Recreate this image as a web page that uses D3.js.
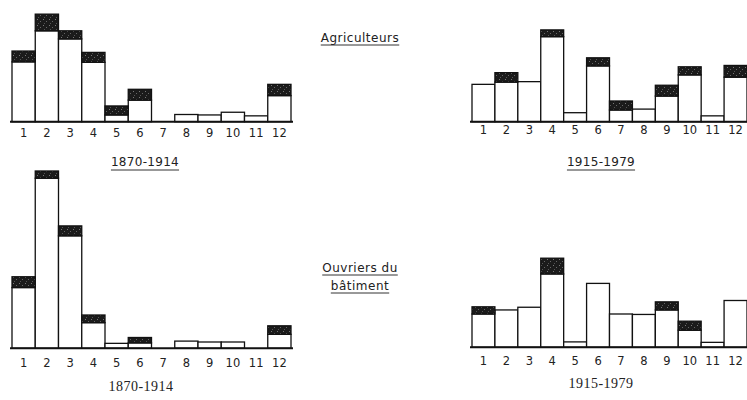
<!DOCTYPE html>
<html>
<head>
<meta charset="utf-8">
<script src="https://cdn.jsdelivr.net/npm/d3@7/dist/d3.min.js"></script>
<style>
  body { margin: 0; background: #fff; }
  #chart { width: 747px; height: 400px; display: block; }
  .axis .domain { stroke: #111; stroke-width: 2; }
  .axis .tick line { display: none; }
  .axis .tick text { font-family: "DejaVu Sans", sans-serif; font-size: 11.5px; fill: #222; }
</style>
</head>
<body>
<svg id="chart"></svg>
<script>
var months = ["1", "2", "3", "4", "5", "6", "7", "8", "9", "10", "11", "12"];

// lower (white) and upper (dark) part of each bar
var agriLow1870 = [13.3, 20.2, 18.4, 13.2, 1.5, 4.8, 0, 1.6, 1.5, 2.1, 1.3, 5.8];
var agriHigh1870 = [2.4, 3.7, 1.8, 2.2, 2.0, 2.4, 0, 0, 0, 0, 0, 2.5];
var agriLow1915 = [8.3, 8.8, 8.9, 18.9, 2.0, 12.4, 2.6, 2.8, 5.7, 10.4, 1.3, 9.9];
var agriHigh1915 = [0, 2.1, 0, 1.5, 0, 1.8, 2.0, 0, 2.4, 1.8, 0, 2.6];
var batiLow1870 = [13.5, 37.8, 25.0, 5.7, 1.1, 1.2, 0, 1.6, 1.4, 1.4, 0, 3.1];
var batiHigh1870 = [2.4, 1.6, 2.2, 1.7, 0, 1.2, 0, 0, 0, 0, 0, 1.9];
var batiLow1915 = [7.4, 8.3, 8.9, 16.3, 1.2, 14.2, 7.4, 7.3, 8.3, 3.8, 1.1, 10.4];
var batiHigh1915 = [1.6, 0, 0, 3.5, 0, 0, 0, 0, 1.8, 2.0, 0, 0];

var svg = d3.select("#chart");

// stippled dark fill like the printed original
var pat = svg.append("defs").append("pattern")
    .attr("id", "stipple")
    .attr("patternUnits", "userSpaceOnUse")
    .attr("width", 6).attr("height", 6);
pat.append("rect").attr("width", 6).attr("height", 6).attr("fill", "#1b1b1b");
pat.append("rect").attr("x", 1).attr("y", 1).attr("width", 1).attr("height", 1).attr("fill", "#777");
pat.append("rect").attr("x", 4).attr("y", 3).attr("width", 1).attr("height", 1).attr("fill", "#666");
pat.append("rect").attr("x", 2).attr("y", 5).attr("width", 1).attr("height", 1).attr("fill", "#555");

var panels = [
  {low: agriLow1870, high: agriHigh1870, x0: 12, x1: 291, base: 121.7, pad: 7, label: "1870-1914", lx: 145, ly: 166, underline: true, serif: false},
  {low: agriLow1915, high: agriHigh1915, x0: 472, x1: 747, base: 121.7, pad: 4, label: "1915-1979", lx: 601, ly: 166, underline: true, serif: false},
  {low: batiLow1870, high: batiHigh1870, x0: 12, x1: 291, base: 348.3, pad: 11, label: "1870-1914", lx: 141, ly: 391, underline: false, serif: true},
  {low: batiLow1915, high: batiHigh1915, x0: 472, x1: 747, base: 347.3, pad: 10, label: "1915-1979", lx: 601, ly: 388, underline: false, serif: true}
];

var pxPerUnit = 4.5;

panels.forEach(function(p) {
  var x = d3.scaleBand().domain(months).range([p.x0, p.x1]).padding(0);
  var y = d3.scaleLinear().domain([0, 40]).range([p.base, p.base - 40 * pxPerUnit]);

  var g = svg.append("g").attr("class", "panel");

  var rows = months.map(function(m, i) { return {m: m, low: p.low[i], high: p.high[i]}; });

  // white part
  g.selectAll(".low")
    .data(rows.filter(function(d) { return d.low > 0; }))
    .enter().append("rect")
      .attr("class", "low")
      .attr("x", function(d) { return x(d.m); })
      .attr("width", x.bandwidth())
      .attr("y", function(d) { return y(d.low); })
      .attr("height", function(d) { return y(0) - y(d.low); })
      .attr("fill", "#fff")
      .attr("stroke", "#111")
      .attr("stroke-width", 1.3);

  // dark top
  g.selectAll(".high")
    .data(rows.filter(function(d) { return d.high > 0; }))
    .enter().append("rect")
      .attr("class", "high")
      .attr("x", function(d) { return x(d.m); })
      .attr("width", x.bandwidth())
      .attr("y", function(d) { return y(d.low + d.high); })
      .attr("height", function(d) { return y(d.low) - y(d.low + d.high); })
      .attr("fill", "url(#stipple)")
      .attr("stroke", "#111")
      .attr("stroke-width", 1.3);

  var axis = g.append("g")
      .attr("class", "axis")
      .attr("transform", "translate(0," + p.base + ")")
      .call(d3.axisBottom(x).tickSize(0).tickPadding(p.pad).tickSizeOuter(0));
  axis.select(".domain").attr("d", "M" + (p.x0 - 2) + ",0H" + Math.min(p.x1 + 2, 747));

  var t = g.append("text")
      .attr("x", p.lx)
      .attr("y", p.ly)
      .attr("text-anchor", "middle")
      .style("font-family", p.serif ? "Liberation Serif, serif" : "DejaVu Sans, sans-serif")
      .style("font-size", p.serif ? "14px" : "12px")
      .style("letter-spacing", p.serif ? "0.5px" : "0.3px")
      .attr("fill", "#222")
      .text(p.label);
  if (p.underline) underline(t, 4);
});

function underline(t, off) {
  var b = t.node().getBBox();
  svg.append("line")
    .attr("x1", b.x).attr("x2", b.x + b.width)
    .attr("y1", b.y + b.height + off - 3).attr("y2", b.y + b.height + off - 3)
    .attr("stroke", "#333").attr("stroke-width", 1);
}

// group names in the middle
var names = [
  {lines: ["Agriculteurs"], y: 42},
  {lines: ["Ouvriers du", "bâtiment"], y: 272}
];
names.forEach(function(n) {
  n.lines.forEach(function(s, i) {
    var t = svg.append("text")
        .attr("x", 360)
        .attr("y", n.y + i * 18)
        .attr("text-anchor", "middle")
        .style("font-family", "DejaVu Sans, sans-serif")
        .style("font-size", "12px")
        .style("letter-spacing", "0.5px")
        .attr("fill", "#222")
        .text(s);
    underline(t, 3);
  });
});
</script>
</body>
</html>
